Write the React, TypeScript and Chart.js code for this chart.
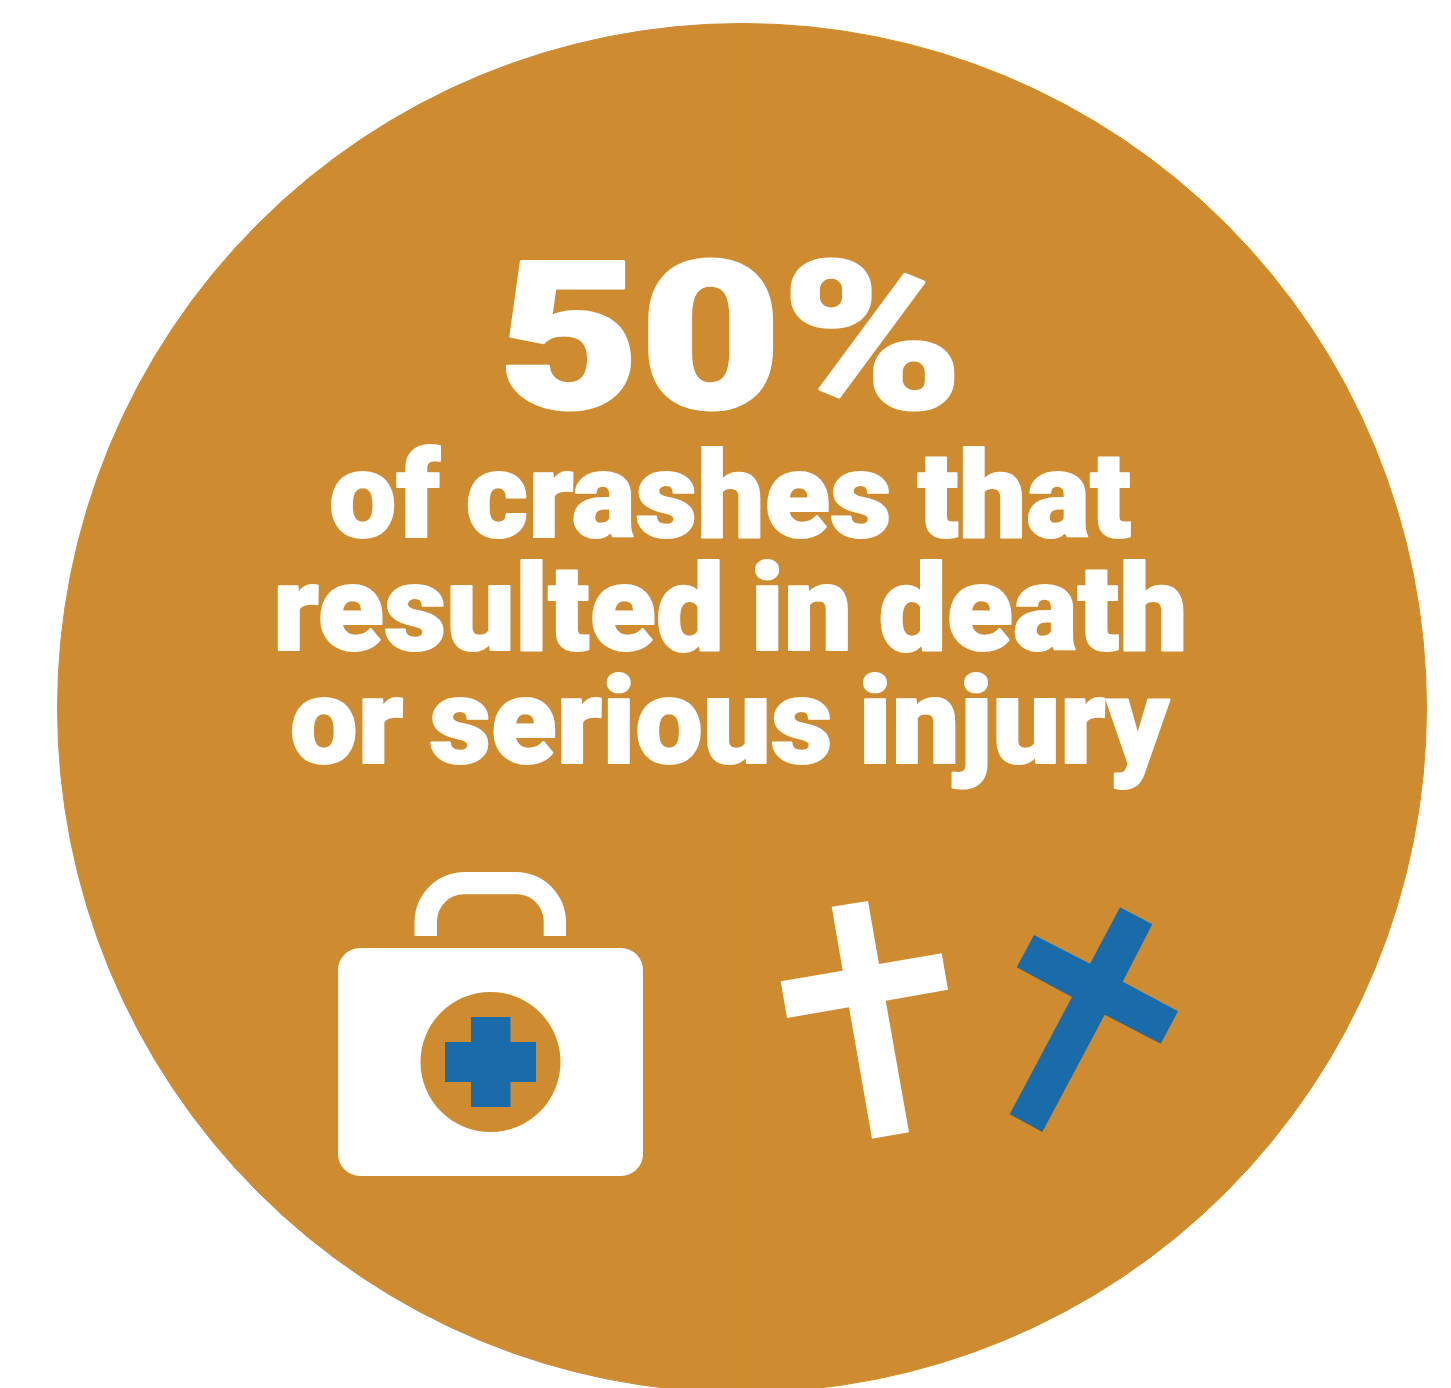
import React, { useEffect, useRef } from "react";
import { Chart, registerables } from "chart.js";

Chart.register(...registerables);

const categories = ["Death or serious injury", "Other crashes"];
const shareValues = [50, 50];
const headlineLines = ["of crashes that", "resulted in death", "or serious injury"];

const ORANGE = "#CF8B2F";
const BLUE = "#1A6BAA";
const WHITE = "#FFFFFF";
const FONT = "Roboto";

const whiteCross = [[831.7,906.7],[868,901],[879,964],[941.7,953.3],[948,989.7],[885.7,1000.7],[909,1132.3],[872,1138.7],[849,1007.3],[787,1018],[780.7,981.3],[842.7,970.7]];
const blueCross = [[1120,907.3],[1152.3,924.3],[1122.7,981.7],[1178,1011.3],[1160.7,1043.7],[1104.7,1014.7],[1042.3,1132],[1009.7,1114.3],[1072,997],[1016.7,967.3],[1034,935],[1090,963.7]];
const medicalCross = [[471,1017],[510.5,1017],[510.5,1042],[536,1042],[536,1082],[510.5,1082],[510.5,1107],[471,1107],[471,1082],[445,1082],[445,1042],[471,1042]];

function poly(ctx: CanvasRenderingContext2D, pts: number[][], color: string) {
  ctx.beginPath();
  pts.forEach(([x, y], i) => (i ? ctx.lineTo(x, y) : ctx.moveTo(x, y)));
  ctx.closePath();
  ctx.fillStyle = color;
  ctx.fill();
}

function fitText(ctx: CanvasRenderingContext2D, text: string, font: string, left: number, right: number, baseline: number, weight: number, wordGap: number) {
  ctx.save();
  ctx.font = font;
  (ctx as any).wordSpacing = `${wordGap}px`;
  ctx.textAlign = "left";
  ctx.textBaseline = "alphabetic";
  ctx.fillStyle = WHITE;
  ctx.strokeStyle = WHITE;
  ctx.lineJoin = "round";
  const m = ctx.measureText(text);
  const ink = m.actualBoundingBoxRight + m.actualBoundingBoxLeft;
  const innerLeft = left + weight / 2;
  const sx = (right - left - weight) / ink;
  ctx.translate(innerLeft + m.actualBoundingBoxLeft * sx, baseline);
  ctx.scale(sx, 1);
  ctx.lineWidth = weight;
  ctx.strokeText(text, 0, 0);
  ctx.fillText(text, 0, 0);
  ctx.restore();
}

const overlay = {
  id: "overlay",
  afterDraw(chart: Chart) {
    const ctx = chart.ctx;
    ctx.save();
    fitText(ctx, `${shareValues[0]}%`, `900 206px ${FONT}`, 506, 954, 408, 3, 0);
    const spans = [[331, 1131, 536.5], [277, 1184, 649.7], [292, 1171, 762.6]];
    headlineLines.forEach((t, i) => fitText(ctx, t, `900 120px ${FONT}`, spans[i][0], spans[i][1], spans[i][2], 2, -4));

    // first-aid case
    ctx.fillStyle = WHITE;
    ctx.beginPath();
    ctx.roundRect(338, 948, 305, 228, 22);
    ctx.fill();
    ctx.beginPath();
    ctx.moveTo(414.5, 936);
    ctx.lineTo(414.5, 922);
    ctx.arcTo(414.5, 872, 464.5, 872, 50);
    ctx.lineTo(516, 872);
    ctx.arcTo(566, 872, 566, 922, 50);
    ctx.lineTo(566, 936);
    ctx.lineTo(543.7, 936);
    ctx.lineTo(543.7, 922);
    ctx.arcTo(543.7, 894.3, 516, 894.3, 27);
    ctx.lineTo(464.5, 894.3);
    ctx.arcTo(437, 894.3, 437, 922, 27);
    ctx.lineTo(437, 936);
    ctx.closePath();
    ctx.fill();
    ctx.fillStyle = ORANGE;
    ctx.beginPath();
    ctx.arc(490.5, 1062, 70, 0, Math.PI * 2);
    ctx.fill();
    poly(ctx, medicalCross, BLUE);
    poly(ctx, whiteCross, WHITE);
    poly(ctx, blueCross, BLUE);
    ctx.restore();
  },
};

export default function App() {
  const ref = useRef<HTMLCanvasElement>(null);
  useEffect(() => {
    const chart = new Chart(ref.current!, {
      type: "pie",
      data: {
        labels: categories,
        datasets: [{ data: shareValues, backgroundColor: [ORANGE, ORANGE], borderColor: ORANGE, borderWidth: 1 }],
      },
      options: {
        responsive: false,
        animation: false,
        layout: { padding: { left: 57, right: 24, top: 23, bottom: 7 } },
        plugins: { legend: { display: false }, tooltip: { enabled: false }, title: { display: false } },
      },
      plugins: [overlay],
    });
    return () => chart.destroy();
  }, []);
  return (
    <div style={{ position: "absolute", left: 0, top: 0, width: 1451, height: 1388, overflow: "hidden", background: "#fff" }}>
      <canvas ref={ref} width={1451} height={1400} style={{ display: "block" }} />
    </div>
  );
}
